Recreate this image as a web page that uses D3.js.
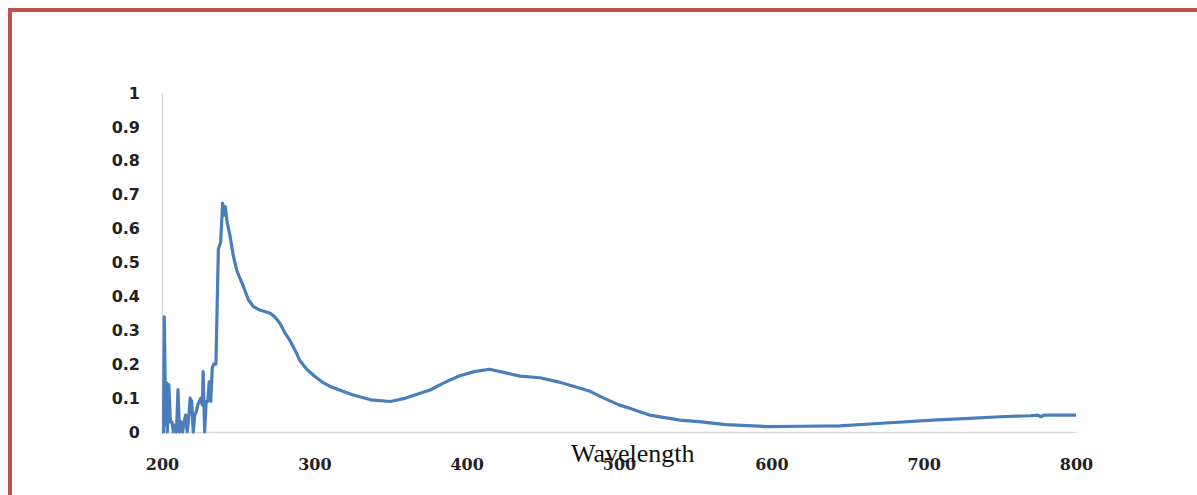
<!DOCTYPE html>
<html>
<head>
<meta charset="utf-8">
<script src="https://cdn.jsdelivr.net/npm/d3@7"></script>
<style>
  body { margin: 0; background: #fff; }
  .ylab { font: bold 16px "DejaVu Sans", sans-serif; fill: #222; text-anchor: end; }
  .xlab { font: bold 16px "DejaVu Serif", serif; fill: #222; text-anchor: middle; }
  .title { font: 26px "Liberation Serif", serif; fill: #111; }
</style>
</head>
<body>
<div id="chart"></div>
<script>
// wavelength (nm) and absorbance
var wavelength = [
  200, 201, 201.5, 202.5, 203, 203.5, 204.5, 205.5, 206.5, 207.5, 208.5, 209.5, 210.5, 211.5, 212.5,
  213.5, 214.5, 215.5, 216.5, 217.5, 218.5, 219.5, 220.5, 221.5, 222.5, 223.5, 224.5, 225.5, 226.5,
  227, 228, 229, 230, 231, 232, 233, 234, 235.4,
  237, 238.5, 239.8, 240.7, 241.6, 242.7, 244.6, 246.8, 249, 251, 253.4, 256.7, 260, 264, 267, 271,
  274, 277.5, 281, 284, 287.5, 290.6, 295, 300, 305, 310, 317, 325, 337, 350, 360, 376, 385, 395,
  405, 415, 425, 435, 448, 460, 470, 481, 490, 500, 507, 520, 540, 554, 570, 597, 620, 645, 670,
  706, 730, 750, 770, 775, 777, 779, 798, 800
];
var absorbance = [
  0, 0, 0.34, 0.02, 0.145, 0.0, 0.14, 0.03, 0.03, 0.0, 0.02, 0.0, 0.125, 0.0, 0.03,
  0.0, 0.03, 0.05, 0.0, 0.04, 0.1, 0.09, 0.0, 0.05, 0.06, 0.08, 0.09, 0.1, 0.08,
  0.178, 0.0, 0.09, 0.09, 0.148, 0.09, 0.19, 0.2, 0.2,
  0.54, 0.56, 0.675, 0.64, 0.665, 0.62, 0.58, 0.52, 0.478, 0.455, 0.43, 0.39, 0.37, 0.36, 0.356, 0.35,
  0.34, 0.32, 0.29, 0.27, 0.24, 0.21, 0.185, 0.165, 0.148, 0.135, 0.123, 0.11, 0.095, 0.09, 0.1, 0.124, 0.145, 0.165,
  0.178, 0.185, 0.175, 0.165, 0.16, 0.148, 0.135, 0.12, 0.1, 0.08, 0.07, 0.05, 0.035, 0.03, 0.022, 0.016, 0.017, 0.018, 0.025,
  0.035, 0.04, 0.045, 0.048, 0.05, 0.045, 0.05, 0.05, 0.05
];
var xTicks = [200, 300, 400, 500, 600, 700, 800];
var yTicks = [0, 0.1, 0.2, 0.3, 0.4, 0.5, 0.6, 0.7, 0.8, 0.9, 1];
var xTitle = "Wavelength";

var width = 1197, height = 495;

var svg = d3.select("#chart").append("svg")
    .attr("width", width)
    .attr("height", height);

// red frame (top and left edges only are visible)
svg.append("path")
    .attr("d", "M10,495 L10,10 L1197,10")
    .attr("fill", "none")
    .attr("stroke", "#c0504d")
    .attr("stroke-width", 4);

var x = d3.scaleLinear().domain([200, 800]).range([162, 1076]);
var y = d3.scaleLinear().domain([0, 1]).range([432, 93]);

// axes: light grey lines, no tick marks
var xAxis = d3.axisBottom(x).tickValues(xTicks).tickSize(0).tickPadding(33);
var yAxis = d3.axisLeft(y).tickValues(yTicks).tickSize(0).tickPadding(22)
    .tickFormat(function(d) { return d3.format("")(+d.toFixed(1)); });

var gx = svg.append("g")
    .attr("transform", "translate(0," + y(0) + ")")
    .call(xAxis);
gx.select(".domain").attr("stroke", "#d9d9d9").attr("stroke-width", 1.5);
gx.selectAll("text").attr("class", "xlab").attr("dy", "0.32em");

var gy = svg.append("g")
    .attr("transform", "translate(" + x(200) + ",0)")
    .call(yAxis);
gy.select(".domain").attr("stroke", "#d9d9d9").attr("stroke-width", 1.5);
gy.selectAll("text").attr("class", "ylab");

// spectrum line
var line = d3.line()
    .x(function(d, i) { return x(wavelength[i]); })
    .y(function(d) { return y(d); });

svg.append("path")
    .datum(absorbance)
    .attr("fill", "none")
    .attr("stroke", "#4a7ebb")
    .attr("stroke-width", 3.2)
    .attr("stroke-linejoin", "round")
    .attr("d", line);

// axis title sits over the 500 label, as in the original
svg.append("text")
    .attr("class", "title")
    .attr("x", 571)
    .attr("y", 462)
    .text(xTitle);
</script>
</body>
</html>
